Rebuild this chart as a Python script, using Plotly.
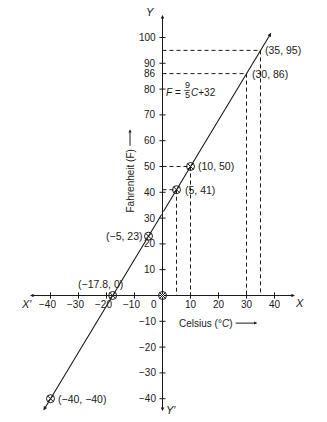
import plotly.graph_objects as go

# ---------------- data ----------------
x_ticks = [-40, -30, -20, -10, 10, 20, 30, 40]
y_ticks = [100, 90, 86, 80, 70, 60, 50, 40, 30, 20, 10, -10, -20, -30, -40]

# points shown with circle markers (Celsius, Fahrenheit)
circ_C = [-40, -17.8, -5, 0, 5, 10]
circ_F = [-40, 0, 23, 0, 41, 50]

# labelled points
lab_C = [35, 30, 10, 5, -5, -17.8, -40]
lab_F = [95, 86, 50, 41, 23, 0, -40]
lab_txt = ["(35, 95)", "(30, 86)", "(10, 50)", "(5, 41)", "(\u22125, 23)", "(\u221217.8, 0)", "(\u221240, \u221240)"]
lab_xshift = [2, 3, 5, 6, -5, -12, 5]
lab_yshift = [0, 0, 0, 0, 0, 12, 0]
lab_anchor = ["left", "left", "left", "left", "right", "center", "left"]

# points projected with dashed guide lines
guide_C = [35, 30, 10, 5]
guide_F = [95, 86, 50, 41]

# ends of the conversion line F = 9/5 C + 32
line_C = [-42.5, 38.8]
line_F = [-44.5, 101.8]
line_mid = (0, 32)

# axis extents
x_axis_ends = [-47.3, 47.3]
y_axis_ends = [-44.8, 108.7]

FONT = "Liberation Sans, Arial, sans-serif"
INK = "#1a1a1a"

fig = go.Figure()

# dashed guides
gx, gy = [], []
for c, f in zip(guide_C, guide_F):
    gx += [0, c, None, c, c, None]
    gy += [f, f, None, f, 0, None]
fig.add_trace(go.Scatter(x=gx, y=gy, mode="lines",
                         line=dict(color=INK, width=1, dash="4px,3px"),
                         hoverinfo="skip", showlegend=False))

# tick marks
tx, ty = [], []
for t in x_ticks:
    tx += [t, t, None]
    ty += [-1.2, 1.2, None]
for t in y_ticks:
    if t in (86,):
        continue
    tx += [-1.1, 1.1, None]
    ty += [t, t, None]
fig.add_trace(go.Scatter(x=tx, y=ty, mode="lines", line=dict(color=INK, width=1),
                         hoverinfo="skip", showlegend=False))

# markers
fig.add_trace(go.Scatter(x=circ_C, y=circ_F, mode="markers",
                         marker=dict(symbol="circle-x-open", size=8, color=INK,
                                     line=dict(width=1, color=INK)),
                         hoverinfo="skip", showlegend=False))

ann = []

def arrow(x0, y0, x1, y1, w=1.0, size=0.7):
    ann.append(dict(x=x1, y=y1, ax=x0, ay=y0, xref="x", yref="y", axref="x", ayref="y",
                    text="", showarrow=True, arrowhead=2, arrowsize=size,
                    arrowwidth=w, arrowcolor=INK, standoff=0, startstandoff=0))

# axes (both directions from origin)
arrow(0, 0, x_axis_ends[0], 0)
arrow(0, 0, x_axis_ends[1], 0)
arrow(0, 0, 0, y_axis_ends[0])
arrow(0, 0, 0, y_axis_ends[1])
# conversion line
arrow(line_mid[0], line_mid[1], line_C[0], line_F[0], w=1.1)
arrow(line_mid[0], line_mid[1], line_C[1], line_F[1], w=1.1)

def txt(x, y, s, size=10, xanchor="center", yanchor="middle", xshift=0, yshift=0, angle=0):
    ann.append(dict(x=x, y=y, xref="x", yref="y", text=s, showarrow=False,
                    xanchor=xanchor, yanchor=yanchor, xshift=xshift, yshift=yshift,
                    textangle=angle, font=dict(family=FONT, size=size, color=INK)))

def fmt(v):
    return str(v).replace("-", "\u2212")

for t in x_ticks:
    txt(t, 0, fmt(t), yanchor="top", yshift=-1, xshift=(-3 if t < 0 else 0))
for t in y_ticks:
    txt(0, t, fmt(t), xanchor="right", xshift=-5)
txt(0, 0, "0", xanchor="right", yanchor="top", xshift=-4, yshift=-1)

for c, f, s, xs, ys, xa in zip(lab_C, lab_F, lab_txt, lab_xshift, lab_yshift, lab_anchor):
    txt(c, f, s, size=10.5, xanchor=xa, xshift=xs, yshift=ys)

# axis letters
txt(-4.5, 110, "<i>Y</i>", size=11)
txt(3.2, -44.4, "<i>Y\u2032</i>", size=11)
txt(-48.6, -3.2, "<i>X\u2032</i>", size=11)
txt(49.1, -2.9, "<i>X</i>", size=11)

# axis titles
txt(15.2, -10.7, "Celsius (\u00b0<i>C</i>)")
arrow(25.6, -10.7, 33.8, -10.7, size=0.6)
txt(-11.6, 44.2, "Fahrenheit (F)", angle=-90)
arrow(-11.6, 57.4, -11.6, 64.3, size=0.6)

# formula F = 9/5 C + 32
txt(7.4, 78.5, "<i>F</i> =", xanchor="right")
txt(8.8, 81.5, "9", size=9)
txt(8.8, 77.6, "5", size=9)
fig.add_trace(go.Scatter(x=[7.8, 9.8], y=[79.5, 79.5], mode="lines",
                         line=dict(color=INK, width=0.8), hoverinfo="skip", showlegend=False))
txt(9.5, 78.5, "<i>C</i>+32", xanchor="left")

fig.update_layout(
    width=327, height=422, autosize=False,
    margin=dict(l=0, r=0, t=0, b=0),
    paper_bgcolor="white", plot_bgcolor="white",
    xaxis=dict(visible=False, range=[-58.04, 58.75], fixedrange=True),
    yaxis=dict(visible=False, range=[-49.03, 114.53], fixedrange=True),
    annotations=ann,
    showlegend=False,
)

fig.write_html("out.html")
